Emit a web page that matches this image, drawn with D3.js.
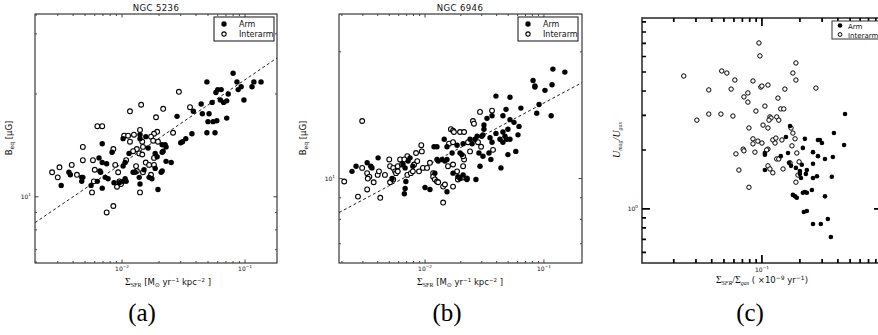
<!DOCTYPE html>
<html><head><meta charset="utf-8">
<script src="https://cdn.jsdelivr.net/npm/d3@7"></script>
<style>body{margin:0;background:#fff}svg{display:block}</style>
</head><body><svg id="c" width="878" height="335"></svg>
<script>
// ---------- data ----------
const armA = [[0.080,23.0],[0.049,21.7],[0.086,21.7],[0.118,21.7],[0.135,21.7],[0.093,21.0],[0.114,21.0],[0.060,20.6],[0.064,20.6],[0.058,20.2],[0.088,20.6],[0.073,20.0],[0.063,19.2],[0.071,19.1],[0.067,18.9],[0.054,18.9],[0.098,19.2],[0.044,18.7],[0.038,17.8],[0.045,17.5],[0.051,17.5],[0.028,17.2],[0.071,17.0],[0.059,16.7],[0.055,16.6],[0.050,16.6],[0.049,15.4],[0.057,15.4],[0.037,15.3],[0.033,14.8],[0.031,14.5],[0.030,14.4],[0.0102,14.8],[0.0140,15.2],[0.0140,14.8],[0.0156,15.0],[0.0069,14.3],[0.0212,14.2],[0.0224,14.2],[0.0228,14.0],[0.0163,13.9],[0.0083,13.5],[0.0114,13.4],[0.0186,13.4],[0.0212,13.5],[0.0216,13.6],[0.0065,13.0],[0.0193,13.1],[0.0228,12.7],[0.0251,12.6],[0.0069,12.6],[0.0075,12.5],[0.0106,12.6],[0.0102,12.3],[0.0066,11.9],[0.0067,11.8],[0.0037,11.8],[0.0038,11.6],[0.0212,11.9],[0.0208,11.8],[0.0123,11.8],[0.0128,11.8],[0.0186,12.1],[0.0151,12.0],[0.0073,11.4],[0.0077,11.3],[0.0047,11.4],[0.0048,11.4],[0.0047,11.1],[0.0138,11.4],[0.0166,11.4],[0.0175,11.3],[0.0106,11.3],[0.0102,11.1],[0.0108,11.1],[0.0086,11.0],[0.0063,11.1],[0.0095,11.0],[0.0032,10.8],[0.0140,10.9],[0.0056,10.8],[0.0069,10.6],[0.0196,10.5]];
const interA = [[0.029,20.3],[0.0143,18.6],[0.0116,17.8],[0.0216,18.1],[0.0357,18.3],[0.0189,17.1],[0.0063,16.1],[0.0069,16.1],[0.0140,15.7],[0.0193,15.5],[0.0182,15.3],[0.026,15.4],[0.0104,15.1],[0.0112,15.1],[0.0125,15.2],[0.0172,15.0],[0.0116,14.5],[0.0146,14.5],[0.0179,14.6],[0.0048,14.0],[0.0085,13.8],[0.0148,14.0],[0.0132,13.8],[0.0196,14.5],[0.0123,13.6],[0.0138,13.4],[0.0146,13.3],[0.0031,12.2],[0.0039,12.4],[0.0048,12.8],[0.0058,12.8],[0.0088,12.4],[0.0130,12.3],[0.0156,12.6],[0.0166,12.4],[0.0182,13.0],[0.0182,12.4],[0.0027,11.8],[0.0030,11.4],[0.0043,11.6],[0.0093,11.8],[0.0148,11.8],[0.0172,11.6],[0.0132,11.9],[0.0059,11.1],[0.0095,11.1],[0.0091,10.7],[0.0098,10.9],[0.0057,10.3],[0.0140,10.3],[0.0075,9.0],[0.0085,9.4],[0.0108,12.8],[0.0060,12.0]];
const fitA = [[0.00196,8.4],[0.182,25.5]];

const armB = [[0.119,18.2],[0.150,17.9],[0.081,17.1],[0.084,16.6],[0.084,16.5],[0.117,16.7],[0.102,16.2],[0.0395,15.7],[0.0518,15.6],[0.064,14.7],[0.091,15.0],[0.087,14.3],[0.115,14.1],[0.048,14.6],[0.0452,14.1],[0.0366,14.1],[0.0332,13.9],[0.0313,13.4],[0.0313,13.1],[0.0307,12.7],[0.0300,12.6],[0.0518,13.8],[0.056,13.6],[0.0617,13.3],[0.0498,13.1],[0.0605,12.7],[0.0395,12.8],[0.0452,12.9],[0.047,12.6],[0.0486,12.4],[0.0518,12.4],[0.0452,12.2],[0.0427,12.4],[0.0352,12.5],[0.0366,12.2],[0.0274,12.6],[0.0263,12.4],[0.0239,12.4],[0.0249,12.1],[0.0209,12.1],[0.0186,12.0],[0.0145,12.4],[0.0153,11.9],[0.0119,11.9],[0.0126,11.9],[0.0169,11.5],[0.0197,11.5],[0.0204,11.4],[0.0284,11.5],[0.0307,11.3],[0.0345,11.5],[0.0358,11.1],[0.0498,11.4],[0.058,11.6],[0.0290,10.7],[0.0435,10.6],[0.0139,11.1],[0.0147,11.0],[0.0153,11.1],[0.00263,10.7],[0.00243,10.4],[0.00326,10.9],[0.00350,10.7],[0.00358,10.6],[0.00403,11.2],[0.00653,10.8],[0.00748,11.2],[0.0072,11.0],[0.0079,10.7],[0.0068,10.6],[0.00528,10.0],[0.0069,9.84],[0.0068,9.47],[0.0067,9.2],[0.0100,9.52],[0.0110,9.42],[0.0153,9.3],[0.0172,10.3],[0.0189,10.1],[0.0197,10.0],[0.0209,10.2],[0.0225,9.95],[0.0268,9.95],[0.0121,10.3],[0.0126,11.1],[0.0129,11.0]];
const interB = [[0.00296,13.7],[0.029,14.4],[0.0366,14.5],[0.0253,13.7],[0.0258,13.5],[0.0165,13.1],[0.0172,13.0],[0.0175,12.9],[0.0197,12.9],[0.0213,12.9],[0.0093,12.0],[0.0159,12.1],[0.0172,12.2],[0.00209,9.84],[0.00273,9.06],[0.00326,9.42],[0.0042,9.0],[0.00296,10.6],[0.00326,10.3],[0.0034,10.1],[0.0033,10.0],[0.0037,9.8],[0.0040,10.2],[0.0041,10.4],[0.0046,10.2],[0.00508,10.7],[0.0054,10.6],[0.0056,10.4],[0.0057,10.3],[0.0059,10.4],[0.00617,11.1],[0.0059,10.7],[0.0064,10.8],[0.00508,9.8],[0.0054,9.95],[0.0071,10.2],[0.0076,10.3],[0.0079,10.4],[0.0081,10.8],[0.0084,11.5],[0.0094,11.6],[0.0096,10.6],[0.0104,10.6],[0.0089,10.4],[0.0117,10.3],[0.0117,10.1],[0.0121,9.95],[0.0126,9.84],[0.0129,9.8],[0.0142,9.57],[0.0147,9.68],[0.0172,9.57],[0.0142,8.77],[0.0156,10.7],[0.0172,10.8],[0.0186,10.4],[0.0209,10.7],[0.0213,11.1],[0.0209,11.3],[0.0189,9.95],[0.0204,10.05],[0.0225,10.0],[0.0239,11.6],[0.0373,11.7],[0.0071,11.3],[0.0067,11.1],[0.0086,11.0],[0.0050,11.1],[0.0110,10.9],[0.0230,12.2],[0.0279,12.2],[0.0296,11.9]];
const fitB = [[0.00189,8.3],[0.209,16.9]];

const armC = [[0.456,3.05],[0.167,2.65],[0.155,2.33],[0.219,2.28],[0.278,2.25],[0.288,2.25],[0.299,2.17],[0.372,2.44],[0.448,2.12],[0.211,2.05],[0.1056,1.89],[0.1056,1.93],[0.141,1.86],[0.161,1.93],[0.254,1.95],[0.278,1.86],[0.316,1.80],[0.365,1.84],[0.1056,1.58],[0.164,1.72],[0.170,1.66],[0.186,1.62],[0.207,1.68],[0.200,1.56],[0.200,1.51],[0.204,1.44],[0.227,1.58],[0.223,1.51],[0.254,1.70],[0.273,1.47],[0.254,1.44],[0.358,1.46],[0.176,1.18],[0.183,1.16],[0.189,1.14],[0.211,1.21],[0.219,1.22],[0.227,1.21],[0.249,1.25],[0.316,1.16],[0.215,0.965],[0.227,0.977],[0.254,0.838],[0.293,0.838],[0.333,0.889],[0.352,0.72]];
const interC = [[0.0240,4.77],[0.0947,7.03],[0.0964,6.04],[0.048,5.06],[0.0527,4.94],[0.061,4.55],[0.186,5.56],[0.176,4.94],[0.186,4.55],[0.0379,4.05],[0.057,4.09],[0.0849,4.50],[0.098,4.19],[0.100,4.24],[0.1116,4.29],[0.152,4.09],[0.268,4.14],[0.0774,3.91],[0.072,3.73],[0.0774,3.51],[0.134,3.68],[0.1056,3.35],[0.0896,3.16],[0.141,3.24],[0.149,3.24],[0.0305,2.84],[0.0379,3.05],[0.0473,3.05],[0.0589,2.98],[0.1157,2.95],[0.118,2.91],[0.1137,2.84],[0.131,2.95],[0.136,2.84],[0.102,2.68],[0.1116,2.59],[0.0789,2.59],[0.170,2.59],[0.176,2.44],[0.0849,2.28],[0.0849,2.15],[0.0929,2.22],[0.100,2.17],[0.122,2.25],[0.129,2.30],[0.127,2.17],[0.144,2.25],[0.183,2.28],[0.173,2.10],[0.071,2.02],[0.1116,2.02],[0.0622,1.91],[0.072,1.98],[0.088,1.95],[0.0657,1.58],[0.0789,1.29],[0.1116,1.66],[0.1157,1.60],[0.122,1.53],[0.131,1.80],[0.136,1.80],[0.147,1.60],[0.167,1.72],[0.189,1.93],[0.197,1.74],[0.193,1.49],[0.186,1.37],[0.109,2.0]];

const xMajorAB = [0.01, 0.1];
const xMinorAB = [0.002,0.003,0.004,0.005,0.006,0.007,0.008,0.009,0.02,0.03,0.04,0.05,0.06,0.07,0.08,0.09];
const xMajorLabelsAB = ["\u22122", "\u22121"];
const yMajorA = [10], yMinorA = [7,8,9,20,30], yMajorLabelA = ["1"];
const yMajorB = [10], yMinorB = [7,8,9,20], yMajorLabelB = ["1"];
const xMajorC = [0.1], xMinorC = [0.02,0.03,0.04,0.05,0.06,0.07,0.08,0.09,0.2,0.3,0.4,0.5,0.6,0.7,0.8], xMajorLabelC = ["\u22121"];
const yMajorC = [1], yMinorC = [0.6,0.7,0.8,0.9,2,3,4,5,6,7,8,9], yMajorLabelC = ["0"];
const legendLabels = ["Arm", "Interarm"];

// ---------- drawing ----------
const svg = d3.select("#c");
const SANS = "DejaVu Sans, Liberation Sans, sans-serif";
const SERIF = "Liberation Serif, Times New Roman, serif";

function supLabel(g, x, y, exp, size, anchor) {
  const t = g.append("text").attr("x", x).attr("y", y).attr("font-family", SANS)
    .attr("font-size", size).attr("text-anchor", anchor || "middle").attr("fill", "#111");
  t.append("tspan").text("10");
  t.append("tspan").attr("dy", -size*0.45).attr("font-size", size*0.7).text(exp);
  return t;
}

function panel(o) {
  const g = svg.append("g");
  const x = d3.scaleLog().domain(o.xd).range([o.L, o.R]);
  const y = d3.scaleLog().domain(o.yd).range([o.B, o.T]);
  g.append("defs").append("clipPath").attr("id", "clip" + o.id)
    .append("rect").attr("x", o.L).attr("y", o.T).attr("width", o.R - o.L).attr("height", o.B - o.T);

  g.append("rect").attr("x", o.L).attr("y", o.T).attr("width", o.R - o.L).attr("height", o.B - o.T)
    .attr("fill", "none").attr("stroke", o.frameColor).attr("stroke-width", o.frameW);

  // inward ticks on all four sides, positioned through the scales, drawn as one path
  const p = d3.path();
  const addX = (v, len) => {
    const px = x(v);
    p.moveTo(px, o.B); p.lineTo(px, o.B - len);
    p.moveTo(px, o.T); p.lineTo(px, o.T + len);
  };
  const addY = (v, len) => {
    const py = y(v);
    p.moveTo(o.L, py); p.lineTo(o.L + len, py);
    p.moveTo(o.R, py); p.lineTo(o.R - len, py);
  };
  o.xMinor.forEach(v => addX(v, o.minorLen));
  o.xMajor.forEach(v => addX(v, o.majorLen));
  o.yMinor.forEach(v => addY(v, o.minorLen));
  o.yMajor.forEach(v => addY(v, o.majorLen));
  g.append("path").attr("d", p.toString()).attr("fill", "none")
    .attr("stroke", o.tickColor).attr("stroke-width", o.tickW);

  o.xMajor.forEach((v, i) => supLabel(g, x(v), o.B + o.xLabDy, o.xMajorLabels[i], o.tickFont));
  o.yMajor.forEach((v, i) => supLabel(g, o.L - 4, y(v) + 2, o.yMajorLabels[i], o.tickFont, "end"));

  const pg = g.append("g").attr("clip-path", `url(#clip${o.id})`);
  if (o.fit) {
    pg.append("path").datum(o.fit)
      .attr("d", d3.line().x(d => x(d[0])).y(d => y(d[1])))
      .attr("fill", "none").attr("stroke", "#222").attr("stroke-width", 1).attr("stroke-dasharray", "3,2.5");
  }
  pg.selectAll(".o").data(o.inter).join("circle")
    .attr("cx", d => x(d[0])).attr("cy", d => y(d[1])).attr("r", o.rOpen)
    .attr("fill", "#fff").attr("stroke", "#000").attr("stroke-width", o.openW);
  pg.selectAll(".f").data(o.arm).join("circle")
    .attr("cx", d => x(d[0])).attr("cy", d => y(d[1])).attr("r", o.rFill).attr("fill", "#000");

  // legend
  const lg = g.append("g");
  lg.append("rect").attr("x", o.leg[0]).attr("y", o.leg[1]).attr("width", o.leg[2]).attr("height", o.leg[3])
    .attr("fill", "#fff").attr("stroke", o.frameColor).attr("stroke-width", 1);
  legendLabels.forEach((lab, i) => {
    const cy = o.leg[1] + o.legRow0 + i * o.legStep;
    const c = lg.append("circle").attr("cx", o.leg[0] + o.legMark).attr("cy", cy);
    if (i === 0) c.attr("r", o.rFill).attr("fill", "#000");
    else c.attr("r", o.rOpen - 0.3).attr("fill", "#fff").attr("stroke", "#000").attr("stroke-width", o.openW);
    lg.append("text").attr("x", o.leg[0] + o.legText).attr("y", cy + 3).attr("font-family", SANS)
      .attr("font-size", o.legFont).attr("fill", "#111").text(lab);
  });
  return g;
}

const common = {frameColor: "#111", frameW: 1, tickColor: "#444", tickW: 1, minorLen: 2, majorLen: 3.5,
  tickFont: 6, xLabDy: 8, rFill: 2.7, rOpen: 2.4, openW: 1.1, legFont: 8, legRow0: 7, legStep: 10,
  legMark: 10, legText: 25, xMajor: xMajorAB, xMinor: xMinorAB, xMajorLabels: xMajorLabelsAB};

panel(Object.assign({}, common, {id: "a", L: 35, R: 277, T: 14, B: 263,
  xd: [0.00196, 0.182], yd: [6.4, 34.3], yMajor: yMajorA, yMinor: yMinorA, yMajorLabels: yMajorLabelA,
  arm: armA, inter: interA, fit: fitA, leg: [214, 17, 60, 24]}));
panel(Object.assign({}, common, {id: "b", L: 339, R: 582, T: 14, B: 263,
  xd: [0.00189, 0.209], yd: [6.3, 24.6], yMajor: yMajorB, yMinor: yMinorB, yMajorLabels: yMajorLabelB,
  arm: armB, inter: interB, fit: fitB, leg: [518, 17, 60, 24]}));
panel(Object.assign({}, common, {id: "c", L: 642, R: 882, T: 18, B: 263,
  frameColor: "#333", frameW: 1.6, tickColor: "#000", tickW: 1.7, minorLen: 4, majorLen: 8, tickFont: 6, xLabDy: 9,
  xd: [0.0112, 0.895], yd: [0.53, 9.43], xMajor: xMajorC, xMinor: xMinorC, xMajorLabels: xMajorLabelC,
  yMajor: yMajorC, yMinor: yMinorC, yMajorLabels: yMajorLabelC, rFill: 2.3, rOpen: 2.2, openW: 1,
  arm: armC, inter: interC, fit: null, leg: [832, 21, 60, 18], legRow0: 4.5, legStep: 9, legMark: 8,
  legText: 16, legFont: 7}));

// titles
[["NGC 5236", 156], ["NGC 6946", 460]].forEach(([t, cx]) =>
  svg.append("text").attr("x", cx).attr("y", 11).attr("text-anchor", "middle").attr("font-family", SANS)
    .attr("font-size", 8.5).attr("letter-spacing", 0.4).attr("fill", "#111").text(t));

// x axis titles (a),(b)
function sfrLabel(cx) {
  const t = svg.append("text").attr("x", cx).attr("y", 285).attr("text-anchor", "middle")
    .attr("font-family", SANS).attr("font-size", 8.5).attr("fill", "#111");
  t.append("tspan").attr("font-family", SERIF).attr("font-size", 10).text("\u03A3");
  t.append("tspan").attr("dy", 2).attr("font-family", SERIF).attr("font-size", 6).text("SFR");
  t.append("tspan").attr("dy", -2).text(" [M");
  t.append("tspan").attr("dy", 2).attr("font-size", 6).text("\u2299");
  t.append("tspan").attr("dy", -2).text(" yr");
  t.append("tspan").attr("dy", -3).attr("font-size", 5.5).text("\u22121");
  t.append("tspan").attr("dy", 3).text(" kpc");
  t.append("tspan").attr("dy", -3).attr("font-size", 5.5).text("\u22122");
  t.append("tspan").attr("dy", 3).text(" ]");
}
sfrLabel(168); sfrLabel(460);

// y axis titles (a),(b)
function bLabel(cx) {
  const t = svg.append("text").attr("transform", `translate(${cx},138) rotate(-90)`).attr("text-anchor", "middle")
    .attr("font-family", SANS).attr("font-size", 8.5).attr("fill", "#111");
  t.append("tspan").text("B");
  t.append("tspan").attr("dy", 2).attr("font-size", 6).text("eq");
  t.append("tspan").attr("dy", -2).text(" [\u03BCG]");
}
bLabel(12); bLabel(306);

// (c) axis titles
{
  const t = svg.append("text").attr("x", 762).attr("y", 283).attr("text-anchor", "middle")
    .attr("font-family", SANS).attr("font-size", 8.5).attr("fill", "#111");
  t.append("tspan").attr("font-family", SERIF).attr("font-size", 10).text("\u03A3");
  t.append("tspan").attr("dy", 2).attr("font-family", SERIF).attr("font-style", "italic").attr("font-size", 6).text("SFR");
  t.append("tspan").attr("dy", -2).attr("font-family", SERIF).attr("font-size", 10).text("/\u03A3");
  t.append("tspan").attr("dy", 2).attr("font-family", SERIF).attr("font-style", "italic").attr("font-size", 6).text("gas");
  t.append("tspan").attr("dy", -2).text(" ( \u00D710");
  t.append("tspan").attr("dy", -3).attr("font-size", 6).text("\u22129");
  t.append("tspan").attr("dy", 3).text(" yr");
  t.append("tspan").attr("dy", -3).attr("font-size", 6).text("\u22121");
  t.append("tspan").attr("dy", 3).text(")");
  const u = svg.append("text").attr("transform", "translate(620,140) rotate(-90)").attr("text-anchor", "middle")
    .attr("font-family", SERIF).attr("font-style", "italic").attr("font-size", 10).attr("fill", "#111");
  u.append("tspan").text("U");
  u.append("tspan").attr("dy", 2).attr("font-size", 6).text("mag");
  u.append("tspan").attr("dy", -2).text("/U");
  u.append("tspan").attr("dy", 2).attr("font-size", 6).text("gas");
}

// panel letters
[["(a)", 142], ["(b)", 447], ["(c)", 750]].forEach(([t, cx]) =>
  svg.append("text").attr("x", cx).attr("y", 321).attr("text-anchor", "middle").attr("font-family", SERIF)
    .attr("font-size", 25).attr("fill", "#000").text(t));
</script></body></html>
